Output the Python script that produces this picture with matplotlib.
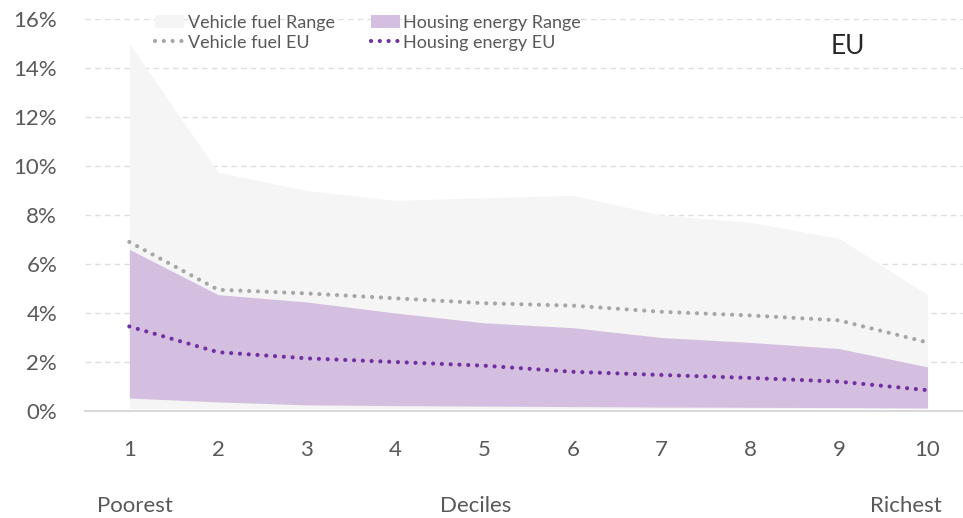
import matplotlib
matplotlib.use('Agg')
import matplotlib.pyplot as plt
from matplotlib.patches import Patch
from matplotlib.lines import Line2D
from matplotlib.ticker import FuncFormatter

plt.rcParams['font.family'] = ['Lato', 'DejaVu Sans']

# data
deciles = [1, 2, 3, 4, 5, 6, 7, 8, 9, 10]
fuel_hi = [15.0, 9.75, 9.0, 8.6, 8.7, 8.8, 8.0, 7.7, 7.05, 4.75]
fuel_lo = [0.1, 0.1, 0.1, 0.1, 0.1, 0.1, 0.1, 0.1, 0.1, 0.1]
house_hi = [6.6, 4.75, 4.45, 4.0, 3.6, 3.4, 3.0, 2.8, 2.55, 1.8]
house_lo = [0.53, 0.37, 0.25, 0.22, 0.2, 0.18, 0.16, 0.15, 0.14, 0.12]
fuel_eu = [6.9, 4.95, 4.8, 4.6, 4.4, 4.3, 4.05, 3.9, 3.7, 2.8]
house_eu = [3.45, 2.4, 2.15, 2.0, 1.85, 1.6, 1.47, 1.35, 1.2, 0.85]
y_ticks = [0, 2, 4, 6, 8, 10, 12, 14, 16]

txt = '#595959'
c_fuel_fill = '#f5f5f5'
c_house_fill = '#d4bfe0'
c_fuel_line = '#a6a6a6'
c_house_line = '#7030a0'

fig = plt.figure(figsize=(9.63, 5.18), dpi=100)
ax = fig.add_axes([85 / 963, 1 - 411 / 518, 1 - 85 / 963, (411 - 19) / 518])

ax.fill_between(deciles, fuel_lo, fuel_hi, color=c_fuel_fill, lw=0, zorder=1)
ax.fill_between(deciles, house_lo, house_hi, color=c_house_fill, lw=0, zorder=2)
dots = (0, (0.01, 2.1))
ax.plot(deciles, fuel_eu, color=c_fuel_line, lw=3, linestyle=dots,
        dash_capstyle='round', zorder=3)
ax.plot(deciles, house_eu, color=c_house_line, lw=3, linestyle=dots,
        dash_capstyle='round', zorder=4)

ax.set_xlim(0.5, 10.4)
ax.set_ylim(0, 16)
ax.set_xticks(deciles)
ax.set_yticks(y_ticks)
ax.yaxis.set_major_formatter(FuncFormatter(lambda v, p: f'{v:.0f}%'))
ax.tick_params(length=0, labelsize=16, labelcolor=txt)
ax.tick_params(axis='y', pad=20)
ax.tick_params(axis='x', pad=21)
for s in ['top', 'right', 'left']:
    ax.spines[s].set_visible(False)
ax.spines['bottom'].set_color('#d9d9d9')
ax.spines['bottom'].set_linewidth(1.5)
ax.grid(axis='y', color='#dedede', linestyle=(0, (4, 3)), lw=1, zorder=0)
ax.set_axisbelow(True)

fig.text(135 / 963, 1 - 506 / 518, 'Poorest', ha='center', va='center', fontsize=16, color=txt)
fig.text(476 / 963, 1 - 506 / 518, 'Deciles', ha='center', va='center', fontsize=16, color=txt)
fig.text(906 / 963, 1 - 506 / 518, 'Richest', ha='center', va='center', fontsize=16, color=txt)
fig.text(848 / 963, 1 - 47 / 518, 'EU', ha='center', va='center', fontsize=19, color='#262626')

handles = [
    Patch(facecolor=c_fuel_fill, edgecolor='none', label='Vehicle fuel Range'),
    Line2D([0], [0], color=c_fuel_line, lw=3, linestyle=dots, dash_capstyle='round', label='Vehicle fuel EU'),
    Patch(facecolor=c_house_fill, edgecolor='none', label='Housing energy Range'),
    Line2D([0], [0], color=c_house_line, lw=3, linestyle=dots, dash_capstyle='round', label='Housing energy EU'),
]
leg = ax.legend(handles=handles, ncol=2, frameon=False, fontsize=13,
                loc='upper left', bbox_to_anchor=(155 / 963, 1 - 15 / 518),
                bbox_transform=fig.transFigure, handlelength=1.6,
                handletextpad=0.2, columnspacing=2.0, labelspacing=0.2,
                borderpad=0, borderaxespad=0)
for t in leg.get_texts():
    t.set_color(txt)

fig.savefig('out.png', dpi=100)
